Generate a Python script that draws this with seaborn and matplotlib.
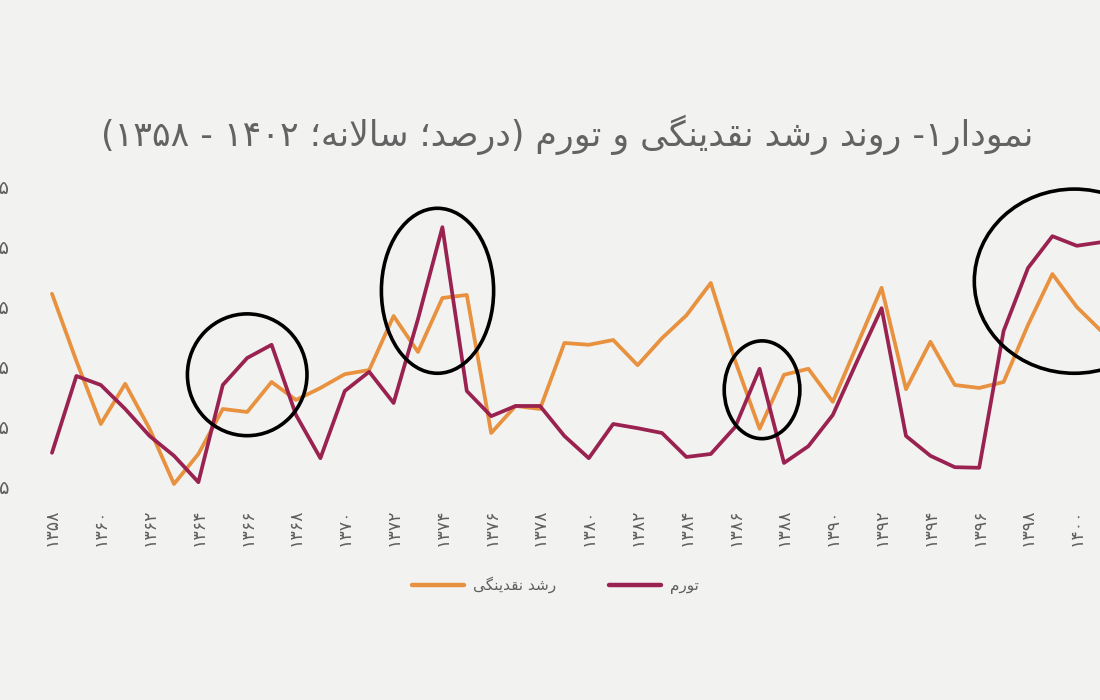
import numpy as np
import pandas as pd
import matplotlib
matplotlib.use("Agg")
import matplotlib.pyplot as plt
from matplotlib.patches import Ellipse
from matplotlib.lines import Line2D
import seaborn as sns

# Annual values (percent)
years = list(range(1358, 1402))
liquidity_growth = [37.2, 26.0, 15.5, 22.2, 14.7, 5.5, 10.5, 18.0, 17.5, 22.5,
                    19.5, 21.5, 23.8, 24.5, 33.5, 27.5, 36.5, 37.0, 14.0, 18.5,
                    18.0, 29.0, 28.7, 29.5, 25.3, 29.8, 33.6, 39.0, 26.0, 14.7,
                    23.7, 24.7, 19.2, 28.7, 38.2, 21.3, 29.2, 22.0, 21.5, 22.5,
                    32.0, 40.5, 35.0, 31.0]
inflation = [10.7, 23.5, 22.0, 18.0, 13.5, 10.2, 5.8, 22.0, 26.5, 28.7,
             17.0, 9.8, 21.0, 24.2, 19.0, 33.0, 48.3, 21.0, 16.8, 18.5,
             18.5, 13.5, 9.8, 15.5, 14.8, 14.0, 10.0, 10.5, 15.0, 24.7,
             9.0, 11.8, 17.0, 26.0, 34.8, 13.5, 10.2, 8.3, 8.2, 31.0,
             41.5, 46.8, 45.2, 45.8]
y_ticks = [5, 15, 25, 35, 45, 55]
x_ticks = list(range(1358, 1401, 2))

title_text = "نمودار۱- روند رشد نقدینگی و تورم (درصد؛ سالانه؛ ۱۴۰۲ - ۱۳۵۸)"
label_liq = "رشد نقدینگی"
label_inf = "تورم"

# circled regions: (center year, center value, width in years, height in %)
highlights = [(1366.0, 23.7, 4.9, 20.3),
              (1373.8, 37.7, 4.6, 27.5),
              (1387.1, 21.2, 3.1, 16.3),
              (1399.9, 39.3, 8.2, 30.7)]

# --- tiny Arabic/Persian shaper (matplotlib has no text shaping) ---
FORMS = {
    'ا': ('\uFE8D', '\uFE8E', None, None),
    'ب': ('\uFE8F', '\uFE90', '\uFE91', '\uFE92'),
    'ت': ('\uFE95', '\uFE96', '\uFE97', '\uFE98'),
    'د': ('\uFEA9', '\uFEAA', None, None),
    'ر': ('\uFEAD', '\uFEAE', None, None),
    'س': ('\uFEB1', '\uFEB2', '\uFEB3', '\uFEB4'),
    'ش': ('\uFEB5', '\uFEB6', '\uFEB7', '\uFEB8'),
    'ص': ('\uFEB9', '\uFEBA', '\uFEBB', '\uFEBC'),
    'ق': ('\uFED5', '\uFED6', '\uFED7', '\uFED8'),
    'ل': ('\uFEDD', '\uFEDE', '\uFEDF', '\uFEE0'),
    'م': ('\uFEE1', '\uFEE2', '\uFEE3', '\uFEE4'),
    'ن': ('\uFEE5', '\uFEE6', '\uFEE7', '\uFEE8'),
    'ه': ('\uFEE9', '\uFEEA', '\uFEEB', '\uFEEC'),
    'و': ('\uFEED', '\uFEEE', None, None),
    'ی': ('\uFEEF', '\uFEF0', '\uFEF3', '\uFEF4'),
    'گ': ('\uFB92', '\uFB93', '\uFB94', '\uFB95'),
}
DIGITS = set("۰۱۲۳۴۵۶۷۸۹0123456789")


def joins_left(c):
    return c in FORMS and FORMS[c][2] is not None


def rtl(text):
    chars = list(text)
    out = []
    i = 0
    while i < len(chars):
        c = chars[i]
        prev = chars[i - 1] if i > 0 else None
        nxt = chars[i + 1] if i + 1 < len(chars) else None
        if c not in FORMS:
            out.append(c)
            i += 1
            continue
        jp = joins_left(prev)
        if c == 'ل' and nxt == 'ا':
            out.append('\uFEFC' if jp else '\uFEFB')
            i += 2
            continue
        jn = nxt in FORMS and joins_left(c)
        iso, fin, ini, med = FORMS[c]
        out.append(med if (jp and jn) else fin if jp else ini if jn else iso)
        i += 1
    out = out[::-1]
    # put digit runs back in reading order, mirror brackets
    res, run = [], []
    for c in out:
        if c in DIGITS:
            run.append(c)
            continue
        if run:
            res.extend(run[::-1])
            run = []
        res.append({'(': ')', ')': '('}.get(c, c))
    res.extend(run[::-1])
    return "".join(res)


def fa_num(n):
    return str(n).translate(str.maketrans("0123456789", "۰۱۲۳۴۵۶۷۸۹"))


orange = "#E8913E"
maroon = "#9A2250"
bg = "#F2F2F1"
gray = "#5E5E5E"

df = pd.DataFrame({
    "year": years * 2,
    "value": liquidity_growth + inflation,
    "series": ["liq"] * len(years) + ["inf"] * len(years),
})

sns.set_theme(style="white")
plt.rcParams['font.family'] = ['DejaVu Sans']

fig = plt.figure(figsize=(11, 7), dpi=100, facecolor=bg)
ax = fig.add_axes([15 / 1100, 200 / 700, 1085 / 1100, 330 / 700])
ax.set_facecolor(bg)

sns.lineplot(data=df, x="year", y="value", hue="series",
             palette={"liq": orange, "inf": maroon}, linewidth=2.7,
             legend=False, ax=ax, zorder=3)
for line in ax.get_lines():
    line.set_solid_joinstyle("round")
    line.set_solid_capstyle("round")

for cx, cy, w, h in highlights:
    ax.add_patch(Ellipse((cx, cy), w, h, fill=False, edgecolor="black",
                         linewidth=2.6, zorder=5, clip_on=False))

ax.set_xlim(1356.484, 1400.951)
ax.set_ylim(2.83, 57.83)
ax.set_xticks(x_ticks)
ax.set_xticklabels([fa_num(y) for y in x_ticks], rotation=90, fontsize=12.5, color=gray)
ax.set_yticks(y_ticks)
ax.set_yticklabels([fa_num(v) for v in y_ticks], fontsize=14, color=gray)
ax.tick_params(axis="both", length=0)
ax.tick_params(axis="x", pad=6)
ax.tick_params(axis="y", pad=4)
ax.set_xlabel("")
ax.set_ylabel("")
for s in ax.spines.values():
    s.set_visible(False)

fig.text(0.516, 0.807, rtl(title_text), ha="center", va="center",
         fontsize=25, color="#636363")

handles = [Line2D([], [], color=orange, linewidth=3.2),
           Line2D([], [], color=maroon, linewidth=3.2)]
fig.legend(handles, [rtl(label_liq), rtl(label_inf)], loc="center",
           bbox_to_anchor=(0.505, 0.164), ncol=2, frameon=False,
           fontsize=11, labelcolor=gray, handlelength=3.4,
           columnspacing=3.5, handletextpad=0.6)

fig.savefig("out.png", dpi=100, facecolor=bg)
